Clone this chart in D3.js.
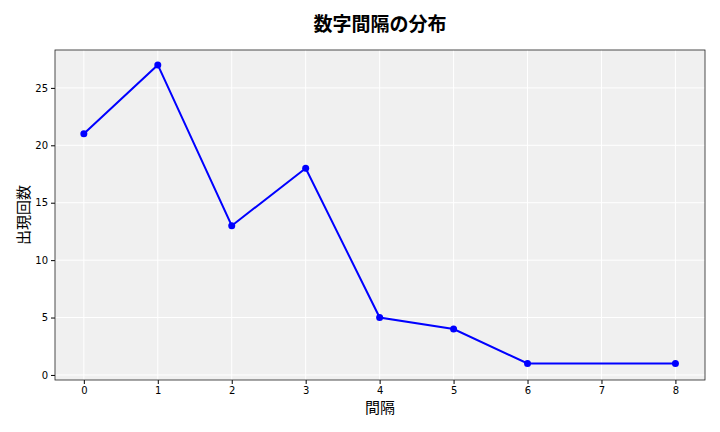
<!DOCTYPE html>
<html><head><meta charset="utf-8">
<script src="https://cdn.jsdelivr.net/npm/d3@7"></script>
<style>body{margin:0;background:#fff;font-family:"DejaVu Sans",sans-serif}</style>
</head><body><svg id="c" width="720" height="432"></svg>
<script>
const intervals = [0, 1, 2, 3, 4, 5, 6, 8]
const counts = [21, 27, 13, 18, 5, 4, 1, 1]
const xTicks = [0, 1, 2, 3, 4, 5, 6, 7, 8]
const yTicks = [0, 5, 10, 15, 20, 25]

const svg = d3.select('#c')
const m = { left: 55, right: 15, top: 50, bottom: 52 }
const w = 720 - m.left - m.right
const h = 432 - m.top - m.bottom
const g = svg.append('g').attr('transform', `translate(${m.left},${m.top})`)

const x = d3.scaleLinear().domain([-0.39, 8.4]).range([0, w])
const y = d3.scaleLinear().domain([-0.44, 28.3]).range([h, 0])

g.append('rect').attr('width', w).attr('height', h).attr('fill', '#f0f0f0')

// grid
g.selectAll('line.gx').data(xTicks).enter().append('line')
  .attr('x1', d => x(d)).attr('x2', d => x(d)).attr('y1', 0).attr('y2', h)
  .attr('stroke', '#fff').attr('stroke-width', 1)
g.selectAll('line.gy').data(yTicks).enter().append('line')
  .attr('y1', d => y(d)).attr('y2', d => y(d)).attr('x1', 0).attr('x2', w)
  .attr('stroke', '#fff').attr('stroke-width', 1)

const xa = g.append('g').attr('transform', `translate(0,${h})`)
  .call(d3.axisBottom(x).tickValues(xTicks).tickSize(4).tickSizeOuter(0))
const ya = g.append('g')
  .call(d3.axisLeft(y).tickValues(yTicks).tickSize(4).tickSizeOuter(0))
xa.select('.domain').remove(); ya.select('.domain').remove()
g.selectAll('.tick text').style('font-size', '10px').style('font-family', 'DejaVu Sans')

g.append('rect').attr('width', w).attr('height', h).attr('fill', 'none').attr('stroke', '#222').attr('stroke-width', 0.8)

const line = d3.line().x((d, i) => x(intervals[i])).y(d => y(d))
g.append('path').datum(counts).attr('d', line).attr('fill', 'none')
  .attr('stroke', '#0000ff').attr('stroke-width', 2)
g.selectAll('circle').data(counts).enter().append('circle')
  .attr('cx', (d, i) => x(intervals[i])).attr('cy', d => y(d)).attr('r', 3.5).attr('fill', '#0000ff')

const jp = '"Noto Sans CJK JP", sans-serif'
svg.append('text').attr('x', 380).attr('y', 31).attr('text-anchor', 'middle')
  .style('font-family', jp).style('font-size', '19px').style('font-weight', 'bold').text('数字間隔の分布')
svg.append('text').attr('x', 380).attr('y', 413).attr('text-anchor', 'middle')
  .style('font-family', jp).style('font-size', '15px').text('間隔')
svg.append('text').attr('transform', `translate(29,${m.top + h / 2}) rotate(-90)`).attr('text-anchor', 'middle')
  .style('font-family', jp).style('font-size', '15px').text('出現回数')
</script></body></html>
